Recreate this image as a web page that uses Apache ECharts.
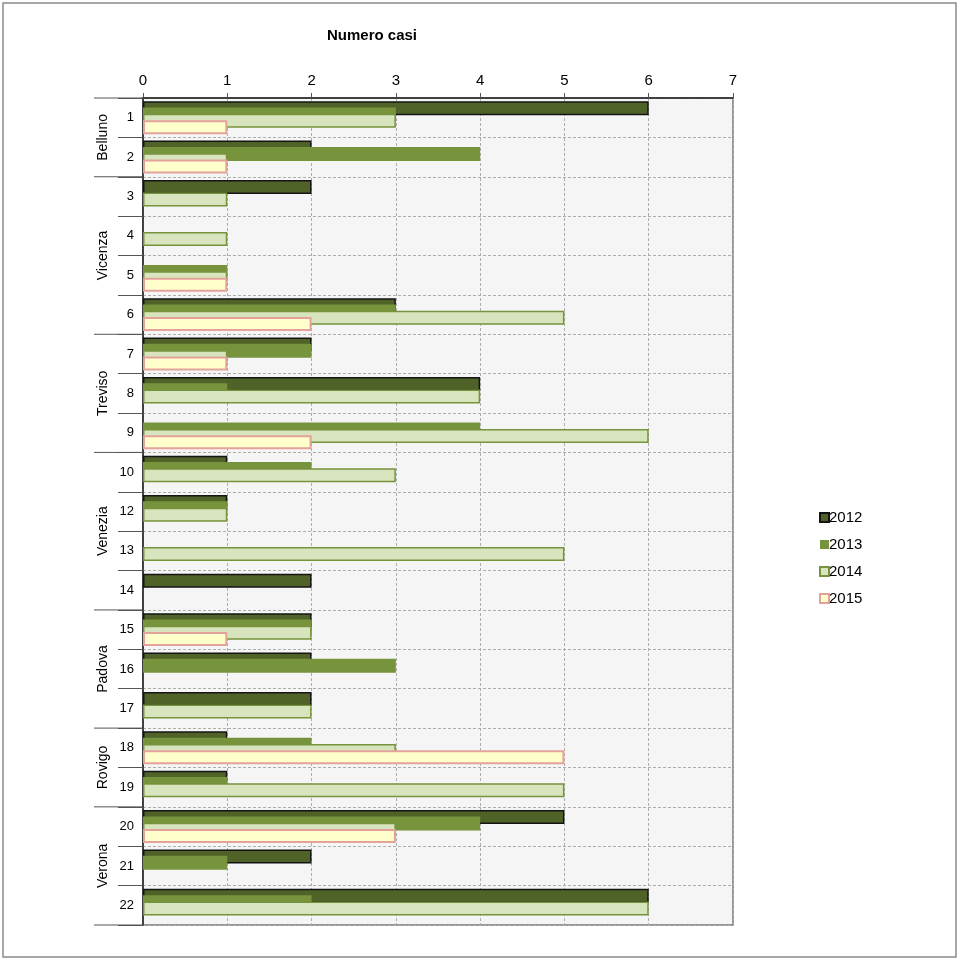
<!DOCTYPE html>
<html>
<head>
<meta charset="utf-8">
<script src="https://cdn.jsdelivr.net/npm/echarts@6/dist/echarts.min.js"></script>
<style>
html,body{margin:0;padding:0;background:#fff;}
#chart{width:960px;height:960px;}
</style>
</head>
<body>
<div id="chart"></div>
<script>
// ---- data ----
const categories = ['1','2','3','4','5','6','7','8','9','10','12','13','14','15','16','17','18','19','20','21','22'];
const groups = [
  {name:'Belluno', from:'1', to:'2'},
  {name:'Vicenza', from:'3', to:'6'},
  {name:'Treviso', from:'7', to:'9'},
  {name:'Venezia', from:'10', to:'14'},
  {name:'Padova', from:'15', to:'17'},
  {name:'Rovigo', from:'18', to:'19'},
  {name:'Verona', from:'20', to:'22'}
];
const seriesNames = ['2012','2013','2014','2015'];
const v2012 = [6,2,2,null,null,3,2,4,null,1,1,null,2,2,2,2,1,1,5,2,6];
const v2013 = [3,4,null,null,1,3,2,1,4,2,1,null,null,2,3,null,2,1,4,1,2];
const v2014 = [3,1,1,1,1,5,1,4,6,3,1,5,null,2,null,2,3,5,3,null,6];
const v2015 = [1,1,null,null,1,2,1,null,2,null,null,null,null,1,null,null,5,null,3,null,null];
const xTicks = [0,1,2,3,4,5,6,7];

const chart = echarts.init(document.getElementById('chart'));
const FONT = 'Liberation Sans, Arial, sans-serif';

const styles = [
  {color:'#4f6228', borderColor:'#141414', borderWidth:1.5},
  {color:'#77933c', borderColor:'#77933c', borderWidth:0},
  {color:'#d7e4bd', borderColor:'#77933c', borderWidth:1.5},
  {color:'#ffffcc', borderColor:'#e3a39c', borderWidth:2}
];
const values = [v2012, v2013, v2014, v2015];

const option = {
  animation: false,
  backgroundColor: '#fff',
  title: {
    text: 'Numero casi',
    left: 322, top: 23,
    textStyle: {fontFamily: FONT, fontSize: 15, fontWeight: 'bold', color: '#000'}
  },
  legend: {
    orient: 'vertical',
    left: 814, top: 505,
    itemWidth: 9, itemHeight: 9, itemGap: 12,
    icon: 'rect',
    textStyle: {fontFamily: FONT, fontSize: 15, color: '#000', padding: [0,0,0,-5]},
    data: seriesNames
  },
  grid: {
    left: 143, right: 227, top: 98, bottom: 35,
    show: true,
    backgroundColor: '#f5f5f5',
    borderColor: '#777',
    borderWidth: 1.5
  },
  xAxis: {
    type: 'value',
    position: 'top',
    min: xTicks[0], max: xTicks[xTicks.length-1], interval: 1,
    axisLine: {show: true, lineStyle: {color: '#222', width: 1.5}},
    axisTick: {show: true, length: 5, lineStyle: {color: '#555'}},
    axisLabel: {fontFamily: FONT, fontSize: 15, color: '#000', margin: 10},
    splitLine: {show: true, lineStyle: {color: '#adadad', type: [3,2], width: 1}}
  },
  yAxis: {
    type: 'category',
    inverse: true,
    data: categories,
    axisLine: {show: true, lineStyle: {color: '#222', width: 1.5}},
    axisTick: {show: true, length: 25, lineStyle: {color: '#555', width: 1}},
    axisLabel: {fontFamily: FONT, fontSize: 13, color: '#000', margin: 9},
    splitLine: {show: true, lineStyle: {color: '#adadad', type: [3,2], width: 1}}
  },
  series: seriesNames.map((n, i) => ({
    name: n,
    type: 'bar',
    data: values[i],
    barWidth: 14,
    barGap: '-55%',
    itemStyle: styles[i]
  }))
};
chart.setOption(option);

// group labels and separators, positioned with the axis scale
const graphics = [];
const bandH = chart.convertToPixel({yAxisIndex: 0}, '2') - chart.convertToPixel({yAxisIndex: 0}, '1');
const axisX = chart.convertToPixel({xAxisIndex: 0}, 0);
groups.forEach((g, gi) => {
  const y1 = chart.convertToPixel({yAxisIndex: 0}, g.from);
  const y2 = chart.convertToPixel({yAxisIndex: 0}, g.to);
  const top = y1 - bandH / 2, bottom = y2 + bandH / 2;
  graphics.push({
    type: 'text',
    x: 103, y: (top + bottom) / 2,
    rotation: Math.PI / 2,
    style: {text: g.name, fontFamily: FONT, fontSize: 14, fill: '#000', align: 'center', verticalAlign: 'middle'}
  });
  if (gi === 0) {
    graphics.push({type: 'line', shape: {x1: 94, y1: top, x2: axisX, y2: top}, style: {stroke: '#555', lineWidth: 1}});
  }
  graphics.push({type: 'line', shape: {x1: 94, y1: bottom, x2: axisX, y2: bottom}, style: {stroke: '#555', lineWidth: 1}});
});
graphics.push({type: 'rect', shape: {x: 3, y: 3, width: 953, height: 954}, style: {fill: 'none', stroke: '#8a8a8a', lineWidth: 1.5}, silent: true});
chart.setOption({graphic: graphics});
</script>
</body>
</html>
